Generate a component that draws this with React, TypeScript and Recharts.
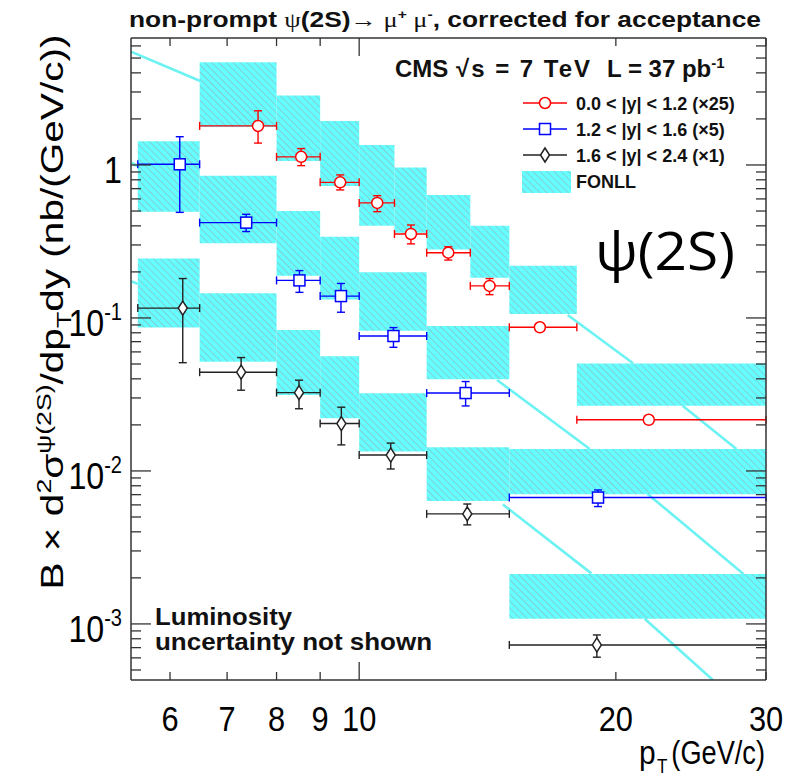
import React from "react";
import { ComposedChart, XAxis, YAxis, Scatter, Line, ErrorBar, ReferenceArea } from "recharts";

// bin edges per rapidity range
const RED_EDGES = [6.5, 8, 9, 10, 11, 12, 13.5, 15, 18, 30];
const FWD_EDGES = [5.5, 6.5, 8, 9, 10, 12, 15, 30];

// 0.0 < |y| < 1.2 (x25)
const RED_PT = [7.61, 8.55, 9.5, 10.5, 11.5, 12.72, 14.22, 16.29, 21.86];
const RED_VAL = [1.8, 1.13, 0.77, 0.565, 0.354, 0.267, 0.162, 0.0869, 0.0216];
const RED_ERR_LO = [0.41, 0.14, 0.083, 0.07, 0.049, 0.028, 0.02, 0.004, 0.0012];
const RED_ERR_HI = [0.46, 0.15, 0.091, 0.065, 0.051, 0.025, 0.019, 0.004, 0.0013];
const RED_FONLL_LO = [1.77, 1.06, 0.73, 0.4, 0.36, 0.28, 0.183, 0.106, 0.0267];
const RED_FONLL_HI = [4.69, 2.84, 1.94, 1.35, 0.961, 0.637, 0.401, 0.219, 0.0503];

// 1.2 < |y| < 1.6 (x5)
const BLUE_PT = [6.16, 7.37, 8.51, 9.52, 10.97, 13.33, 19.06];
const BLUE_VAL = [1.01, 0.42, 0.176, 0.139, 0.0762, 0.0323, 0.0067];
const BLUE_ERR_LO = [0.52, 0.053, 0.029, 0.03, 0.0119, 0.0057, 0.00085];
const BLUE_ERR_HI = [0.52, 0.056, 0.028, 0.029, 0.0103, 0.0061, 0.00081];
const BLUE_FONLL_LO = [0.495, 0.308, 0.189, 0.132, 0.0826, 0.0397, 0.00704];
const BLUE_FONLL_HI = [1.43, 0.851, 0.5, 0.34, 0.199, 0.0887, 0.0139];

// 1.6 < |y| < 2.4 (x1)
const BLACK_PT = [6.21, 7.27, 8.5, 9.53, 10.89, 13.39, 19.0];
const BLACK_VAL = [0.116, 0.0442, 0.0325, 0.0204, 0.0127, 0.00524, 0.000729];
const BLACK_ERR_LO = [0.065, 0.0105, 0.007, 0.0056, 0.0024, 0.0008, 0.000123];
const BLACK_ERR_HI = [0.065, 0.0109, 0.0067, 0.0057, 0.0025, 0.00084, 0.000118];
const BLACK_FONLL_LO = [0.0865, 0.0518, 0.0314, 0.0221, 0.0134, 0.00637, 0.00108];
const BLACK_FONLL_HI = [0.245, 0.145, 0.0835, 0.0562, 0.0322, 0.0143, 0.00212];

// visible pieces of the cyan curves (null = hidden behind a band)
const RED_CURVE_PT = [5.4, 6.51, 12, 17.56, 20.95, 22.5, 23.95, 27.7];
const RED_CURVE_VAL = [5.5, 3.54, null, 0.1046, 0.0506, null, 0.0267, 0.0139];
const BLUE_CURVE_PT = [5.41, 5.5, 10, 14.51, 18.64, 20, 21.79, 28.23];
const BLUE_CURVE_VAL = [1.03, 0.985, null, 0.0393, 0.0139, null, 0.00708, 0.00212];
const BLACK_CURVE_PT = [5.41, 5.5, 10, 14.74, 18.72, 20, 21.62, 25.99];
const BLACK_CURVE_VAL = [0.173, 0.167, null, 0.00604, 0.00214, null, 0.00108, 0.00043];

const X_TICKS = [6, 7, 8, 9, 10, 20, 30];
const Y_TICKS = [
  0.0005, 0.0006, 0.0007, 0.0008, 0.0009,
  0.001, 0.002, 0.003, 0.004, 0.005, 0.006, 0.007, 0.008, 0.009,
  0.01, 0.02, 0.03, 0.04, 0.05, 0.06, 0.07, 0.08, 0.09,
  0.1, 0.2, 0.3, 0.4, 0.5, 0.6, 0.7, 0.8, 0.9,
  1, 2, 3, 4, 5, 6,
];
const Y_LABEL_VALUES = [1, 0.1, 0.01, 0.001];
const Y_LABEL_EXP = ["", "-1", "-2", "-3"];

const CYAN = "#66ffff";
const LINE_CYAN = "#6cf2f2";
const AXIS = "#333";
const FONT = "'Liberation Sans', Arial, Helvetica, sans-serif";
const SERIF = "'Liberation Serif', serif";

const points = (pt: number[], val: number[], lo: number[], hi: number[], edges: number[]) =>
  pt.map((x, i) => ({ x, y: val[i], ey: [lo[i], hi[i]], ex: [x - edges[i], edges[i + 1] - x] }));
const bands = (edges: number[], lo: number[], hi: number[]) =>
  lo.map((l, i) => ({ x1: edges[i], x2: edges[i + 1], y1: l, y2: hi[i] }));

// split a curve at the nulls into separate visible pieces
const segments = (pt: number[], val: (number | null)[]) => {
  const out: { x: number; y: number }[][] = [[]];
  pt.forEach((x, i) => {
    const v = val[i];
    if (v === null) out.push([]);
    else out[out.length - 1].push({ x, y: v });
  });
  return out.filter((s) => s.length > 1);
};

const isMajor = (v: number) => Math.abs(Math.log10(v) - Math.round(Math.log10(v))) < 1e-6;

const Circle = (p: any) => <circle cx={p.cx} cy={p.cy} r={5.5} fill="#fff" stroke="#ff0000" strokeWidth={1.5} />;
const Square = (p: any) => <rect x={p.cx - 5.5} y={p.cy - 5.5} width={11} height={11} fill="#fff" stroke="#0000ff" strokeWidth={1.5} />;
const Diamond = (p: any) => (
  <polygon points={`${p.cx},${p.cy - 7} ${p.cx + 4.5},${p.cy} ${p.cx},${p.cy + 7} ${p.cx - 4.5},${p.cy}`} fill="#fff" stroke="#222" strokeWidth={1.5} />
);

const XTickBottom = (p: any) => {
  const v = p.payload.value;
  return (
    <g>
      <line x1={p.x} x2={p.x} y1={p.y} y2={p.y - (isMajor(v) ? 18 : 8)} stroke={AXIS} strokeWidth={1.3} />
      <text transform={`translate(${p.x},${p.y + 51}) scale(0.88,1)`} textAnchor="middle" fontSize={35} fontFamily={FONT} fill="#000">{v}</text>
    </g>
  );
};
const XTickTop = (p: any) => (
  <line x1={p.x} x2={p.x} y1={p.y} y2={p.y + (isMajor(p.payload.value) ? 18 : 8)} stroke={AXIS} strokeWidth={1.3} />
);
const YTickLeft = (p: any) => {
  const v = p.payload.value;
  const k = Y_LABEL_VALUES.findIndex((l) => Math.abs(l - v) < 1e-9);
  return (
    <g>
      <line x1={p.x} x2={p.x + (isMajor(v) ? 20 : 10)} y1={p.y} y2={p.y} stroke={AXIS} strokeWidth={1.3} />
      {k >= 0 && (
        <text transform={`translate(${p.x - 9},${p.y + 18}) scale(0.87,1)`} textAnchor="end" fontSize={37} fontFamily={FONT} fill="#000">
          {Y_LABEL_EXP[k] === "" ? "1" : "10"}
          {Y_LABEL_EXP[k] !== "" && <tspan dy={-16} fontSize={23}>{Y_LABEL_EXP[k]}</tspan>}
        </text>
      )}
    </g>
  );
};
const YTickRight = (p: any) => (
  <line x1={p.x} x2={p.x - (isMajor(p.payload.value) ? 20 : 10)} y1={p.y} y2={p.y} stroke={AXIS} strokeWidth={1.3} />
);

const LegendRow = ({ y, color, label, marker }: any) => (
  <g>
    <line x1={523} x2={567} y1={y} y2={y} stroke={color} strokeWidth={1.3} />
    {marker === "c" && <circle cx={545} cy={y} r={5.5} fill="#fff" stroke={color} strokeWidth={1.5} />}
    {marker === "s" && <rect x={539.5} y={y - 5.5} width={11} height={11} fill="#fff" stroke={color} strokeWidth={1.5} />}
    {marker === "d" && <polygon points={`545,${y - 7} 549.5,${y} 545,${y + 7} 540.5,${y}`} fill="#fff" stroke={color} strokeWidth={1.5} />}
    <text x={576} y={y + 6.5} fontSize={18} fontWeight="bold" fontFamily={FONT} fill="#111">{label}</text>
  </g>
);

export default function App() {
  const red = points(RED_PT, RED_VAL, RED_ERR_LO, RED_ERR_HI, RED_EDGES);
  const blue = points(BLUE_PT, BLUE_VAL, BLUE_ERR_LO, BLUE_ERR_HI, FWD_EDGES);
  const black = points(BLACK_PT, BLACK_VAL, BLACK_ERR_LO, BLACK_ERR_HI, FWD_EDGES);
  const allBands = [
    ...bands(RED_EDGES, RED_FONLL_LO, RED_FONLL_HI),
    ...bands(FWD_EDGES, BLUE_FONLL_LO, BLUE_FONLL_HI),
    ...bands(FWD_EDGES, BLACK_FONLL_LO, BLACK_FONLL_HI),
  ];
  const curves = [
    ...segments(RED_CURVE_PT, RED_CURVE_VAL),
    ...segments(BLUE_CURVE_PT, BLUE_CURVE_VAL),
    ...segments(BLACK_CURVE_PT, BLACK_CURVE_VAL),
  ];

  return (
    <div style={{ position: "absolute", left: 0, top: 0, width: 795, height: 777, background: "#fff" }}>
      <svg width={0} height={0} style={{ position: "absolute" }}>
        <defs>
          <pattern id="hatch" patternUnits="userSpaceOnUse" width={5} height={5} patternTransform="rotate(-45)">
            <rect width={5} height={5} fill={CYAN} />
            <line x1={0.5} y1={0} x2={0.5} y2={5} stroke="#86b9c0" strokeWidth={0.7} />
          </pattern>
        </defs>
      </svg>
      <ComposedChart width={795} height={777} margin={{ top: 37, right: 28, bottom: 96, left: 130 }}>
        <XAxis xAxisId={0} dataKey="x" type="number" scale="log" domain={[5.4, 30]} allowDataOverflow
          ticks={X_TICKS} interval={0} tickSize={0} tickMargin={0} tickLine={false} height={1}
          axisLine={{ stroke: AXIS, strokeWidth: 1.5 }} tick={XTickBottom} />
        <XAxis xAxisId="top" orientation="top" dataKey="x" type="number" scale="log" domain={[5.4, 30]} allowDataOverflow
          ticks={X_TICKS} interval={0} tickSize={0} tickMargin={0} tickLine={false} height={1}
          axisLine={{ stroke: AXIS, strokeWidth: 1.5 }} tick={XTickTop} />
        <YAxis yAxisId={0} dataKey="y" type="number" scale="log" domain={[0.00043, 6.76]} allowDataOverflow
          ticks={Y_TICKS} interval={0} tickSize={0} tickMargin={0} tickLine={false} width={1}
          axisLine={{ stroke: AXIS, strokeWidth: 1.5 }} tick={YTickLeft} />
        <YAxis yAxisId="right" orientation="right" dataKey="y" type="number" scale="log" domain={[0.00043, 6.76]} allowDataOverflow
          ticks={Y_TICKS} interval={0} tickSize={0} tickMargin={0} tickLine={false} width={1}
          axisLine={{ stroke: AXIS, strokeWidth: 1.5 }} tick={YTickRight} />

        {allBands.map((b, i) => (
          <ReferenceArea key={i} x1={b.x1} x2={b.x2} y1={b.y1} y2={b.y2} fill="url(#hatch)" fillOpacity={1} stroke="none" ifOverflow="visible" />
        ))}

        {curves.map((seg, i) => (
          <Line key={i} data={seg} dataKey="y" stroke={LINE_CYAN} strokeWidth={2.6} dot={false} activeDot={false} isAnimationActive={false} />
        ))}

        <Scatter data={red} shape={Circle} isAnimationActive={false}>
          <ErrorBar dataKey="ex" direction="x" width={4} stroke="#ff0000" strokeWidth={1.4} />
          <ErrorBar dataKey="ey" direction="y" width={4} stroke="#ff0000" strokeWidth={1.4} />
        </Scatter>
        <Scatter data={blue} shape={Square} isAnimationActive={false}>
          <ErrorBar dataKey="ex" direction="x" width={4} stroke="#0000ff" strokeWidth={1.4} />
          <ErrorBar dataKey="ey" direction="y" width={4} stroke="#0000ff" strokeWidth={1.4} />
        </Scatter>
        <Scatter data={black} shape={Diamond} isAnimationActive={false}>
          <ErrorBar dataKey="ex" direction="x" width={4} stroke="#222" strokeWidth={1.4} />
          <ErrorBar dataKey="ey" direction="y" width={4} stroke="#222" strokeWidth={1.4} />
        </Scatter>
      </ComposedChart>

      <svg width={795} height={777} style={{ position: "absolute", left: 0, top: 0, pointerEvents: "none" }}>
        <text x={129} y={27} fontSize={22} fontWeight="bold" fontFamily={FONT} fill="#111" textLength={632} lengthAdjust="spacingAndGlyphs">
          non-prompt <tspan fontFamily={SERIF} fontWeight="normal">ψ</tspan>(2S)
          <tspan fontFamily={SERIF} fontWeight="normal">→ μ</tspan>
          <tspan dy={-8} fontSize={13}>+</tspan>
          <tspan dy={8} fontFamily={SERIF} fontWeight="normal"> μ</tspan>
          <tspan dy={-8} fontSize={13}>-</tspan>
          <tspan dy={8}>, corrected for acceptance</tspan>
        </text>

        <text x={395} y={77} fontSize={24} fontWeight="bold" fontFamily={FONT} fill="#111">CMS</text>
        <text x={456} y={77} fontSize={24} fontWeight="bold" fontFamily={FONT} fill="#111" textLength={134}>√s = 7 TeV</text>
        <text x={607} y={77} fontSize={24} fontWeight="bold" fontFamily={FONT} fill="#111">
          L = 37 pb<tspan dy={-9} fontSize={15}>-1</tspan>
        </text>
        <LegendRow y={103} color="#ff0000" marker="c" label="0.0 < |y| < 1.2 (×25)" />
        <LegendRow y={129} color="#0000ff" marker="s" label="1.2 < |y| < 1.6 (×5)" />
        <LegendRow y={155} color="#222" marker="d" label="1.6 < |y| < 2.4 (×1)" />
        <rect x={522} y={171} width={49} height={22} fill="url(#hatch)" />
        <text x={576} y={188} fontSize={18} fontWeight="bold" fontFamily={FONT} fill="#111">FONLL</text>

        <text x={595} y={270} fontSize={53} fontFamily="'Open Sans', sans-serif" fill="#000" textLength={140} lengthAdjust="spacingAndGlyphs">ψ(2S)</text>

        <text x={155} y={625} fontSize={24} fontWeight="bold" fontFamily={FONT} fill="#111" textLength={137} lengthAdjust="spacingAndGlyphs">Luminosity</text>
        <text x={155} y={650} fontSize={24} fontWeight="bold" fontFamily={FONT} fill="#111" textLength={277} lengthAdjust="spacingAndGlyphs">uncertainty not shown</text>

        <text transform="translate(639,764) scale(0.88,1)" fontSize={34} fontFamily={FONT} fill="#000">p</text>
        <text transform="translate(657,773) scale(0.85,1)" fontSize={20} fontFamily={FONT} fill="#000">T</text>
        <text transform="translate(765,764) scale(0.8,1)" textAnchor="end" fontSize={34} fontFamily={FONT} fill="#000">(GeV/c)</text>

        <text transform="translate(63,312) rotate(-90)" textAnchor="middle" fontSize={32} fontFamily={FONT} fill="#000" textLength={555} lengthAdjust="spacingAndGlyphs">
          B × d<tspan dy={-12} fontSize={21}>2</tspan>
          <tspan dy={12}>σ</tspan>
          <tspan dy={-12} fontSize={21}>ψ(2S)</tspan>
          <tspan dy={12}>/dp</tspan>
          <tspan dy={8} fontSize={21}>T</tspan>
          <tspan dy={-8}>dy (nb/(GeV/c))</tspan>
        </text>
      </svg>
    </div>
  );
}
